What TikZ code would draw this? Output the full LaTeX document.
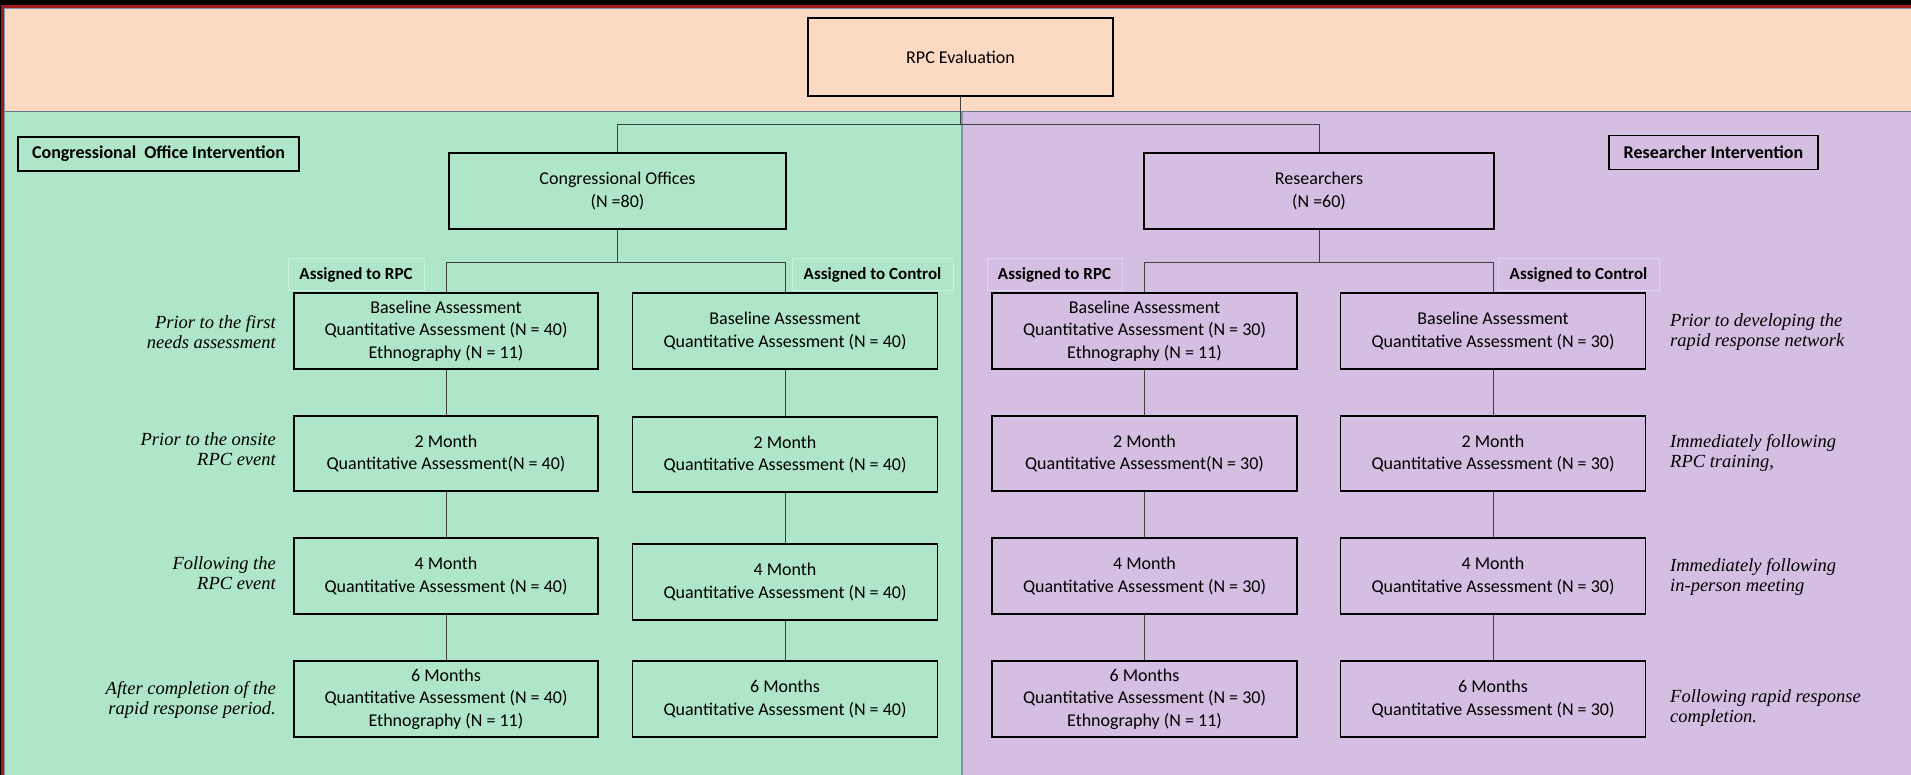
\documentclass[tikz,border=0pt]{standalone}
\usepackage{fontspec}
\setmainfont{Carlito}
\newfontfamily\annotfont{Liberation Serif}
\definecolor{peach}{RGB}{252,217,194}
\definecolor{greenbg}{RGB}{176,230,200}
\definecolor{purplebg}{RGB}{212,191,226}
\definecolor{frred}{RGB}{160,28,28}
\definecolor{frblue}{RGB}{127,149,176}
\definecolor{greenlab}{RGB}{200,240,218}
\definecolor{purplelab}{RGB}{226,212,238}
\tikzset{
  box/.style={draw=black, line width=1.6pt, inner sep=0pt, align=center,
    font=\fontsize{18}{22.5}\selectfont, minimum height=76pt},
  gbox/.style={box, fill=greenbg},
  pbox/.style={box, fill=purplebg},
  conn/.style={draw=black!75, line width=0.8pt},
  intlabel/.style={draw=black, line width=1.5pt, inner sep=0pt, align=center,
    font=\fontsize{18}{22}\selectfont\bfseries, minimum height=34pt},
  asg/.style={line width=1pt, inner sep=0pt, align=center,
    font=\fontsize{17}{20}\selectfont\bfseries, minimum height=32pt},
  annotL/.style={anchor=east, align=right, inner sep=0pt,
    font=\annotfont\itshape\fontsize{18.5}{20}\selectfont},
  annotR/.style={anchor=west, align=left, inner sep=0pt,
    font=\annotfont\itshape\fontsize{18.5}{20}\selectfont},
}
\begin{document}
\begin{tikzpicture}[x=1pt,y=-1pt]
\useasboundingbox (0,0) rectangle (1911,775);
% backgrounds
\fill[greenbg] (0,0) rectangle (962,775);
\fill[purplebg] (962,0) rectangle (1911,775);
\fill[peach] (0,0) rectangle (1911,112);
% frame
\fill[black] (0,0) rectangle (1911,5);
\fill[frred] (0,5) rectangle (1911,8);
\fill[black] (0,0) rectangle (1,775);
\fill[frred] (1,5) rectangle (4,775);
\draw[frblue, line width=1pt] (4.5,775) -- (4.5,8.5) -- (1911,8.5);
\draw[frblue!80!black, line width=1pt] (4.5,112) -- (1911,112);
\draw[frblue, line width=1.2pt] (962,112) -- (962,775);

% top
\node[box, fill=peach, minimum width=305pt, minimum height=78pt] (rpc) at (960.5,57) {RPC Evaluation};
\node[gbox, minimum width=337pt] (co) at (617.5,191) {Congressional Offices\\(N =80)};
\node[pbox, minimum width=350pt] (res) at (1319,191) {Researchers\\(N =60)};
\node[intlabel, fill=greenbg, minimum width=281pt] (coint) at (158.5,154) {Congressional\ \ Office Intervention};
\node[intlabel, fill=purplebg, minimum width=209pt] (resint) at (1713.5,152.5) {Researcher Intervention};

% assigned labels
\node[asg, draw=greenlab, fill=greenbg, minimum width=136pt] (ga) at (356,275) {Assigned to RPC};
\node[asg, draw=greenlab, fill=greenbg, minimum width=161pt] (gc) at (872.5,275) {Assigned to Control};
\node[asg, draw=purplelab, fill=purplebg, minimum width=135pt] (pa) at (1054.5,275) {Assigned to RPC};
\node[asg, draw=purplelab, fill=purplebg, minimum width=161pt] (pc) at (1578.5,275) {Assigned to Control};

% green column RPC
\node[gbox, minimum width=304pt] (g1a) at (446,331) {Baseline Assessment\\Quantitative Assessment (N = 40)\\Ethnography (N = 11)};
\node[gbox, minimum width=304pt, minimum height=75pt] (g2a) at (446,453.5) {2 Month\\Quantitative Assessment(N = 40)};
\node[gbox, minimum width=304pt] (g3a) at (446,576) {4 Month\\Quantitative Assessment (N = 40)};
\node[gbox, minimum width=304pt] (g4a) at (446,699) {6 Months\\Quantitative Assessment (N = 40)\\Ethnography (N = 11)};
% green column control
\node[gbox, minimum width=305pt] (g1b) at (785,331) {Baseline Assessment\\Quantitative Assessment (N = 40)};
\node[gbox, minimum width=305pt, minimum height=75pt] (g2b) at (785,454.5) {2 Month\\Quantitative Assessment (N = 40)};
\node[gbox, minimum width=305pt] (g3b) at (785,582) {4 Month\\Quantitative Assessment (N = 40)};
\node[gbox, minimum width=305pt] (g4b) at (785,699) {6 Months\\Quantitative Assessment (N = 40)};
% purple column RPC
\node[pbox, minimum width=305pt] (p1a) at (1144.5,331) {Baseline Assessment\\Quantitative Assessment (N = 30)\\Ethnography (N = 11)};
\node[pbox, minimum width=305pt, minimum height=75pt] (p2a) at (1144.5,453.5) {2 Month\\Quantitative Assessment(N = 30)};
\node[pbox, minimum width=305pt] (p3a) at (1144.5,576) {4 Month\\Quantitative Assessment (N = 30)};
\node[pbox, minimum width=305pt] (p4a) at (1144.5,699) {6 Months\\Quantitative Assessment (N = 30)\\Ethnography (N = 11)};
% purple column control
\node[pbox, minimum width=305pt] (p1b) at (1493,331) {Baseline Assessment\\Quantitative Assessment (N = 30)};
\node[pbox, minimum width=305pt, minimum height=75pt] (p2b) at (1493,453.5) {2 Month\\Quantitative Assessment (N = 30)};
\node[pbox, minimum width=305pt] (p3b) at (1493,576) {4 Month\\Quantitative Assessment (N = 30)};
\node[pbox, minimum width=305pt] (p4b) at (1493,699) {6 Months\\Quantitative Assessment (N = 30)};

% annotations
\node[annotL] (al1) at (276,332) {Prior to the first\\needs assessment};
\node[annotL] (al2) at (276,449) {Prior to the onsite\\RPC event};
\node[annotL] (al3) at (276,573) {Following the\\RPC event};
\node[annotL] (al4) at (276,700) {After completion of the\\rapid response period.};
\node[annotR] (ar1) at (1670,332) {Prior to developing the\\rapid response network};
\node[annotR] (ar2) at (1670,453) {Immediately following\\RPC training,};
\node[annotR] (ar3) at (1670,577) {Immediately following\\in-person meeting};
\node[annotR] (ar4) at (1670,708) {Following rapid response\\completion.};

% connectors
\coordinate (split) at (rpc.south |- 0,124);
\draw[conn] (rpc.south) -- (split);
\draw[conn] (split) -| (co.north);
\draw[conn] (split) -| (res.north);
\coordinate (cosplit) at (co.south |- 0,262);
\draw[conn] (co.south) -- (cosplit);
\draw[conn] (cosplit) -| (g1a.north);
\draw[conn] (cosplit) -| (g1b.north);
\coordinate (ressplit) at (res.south |- 0,262);
\draw[conn] (res.south) -- (ressplit);
\draw[conn] (ressplit) -| (p1a.north);
\draw[conn] (ressplit) -| (p1b.north);
\draw[conn] (g1a) -- (g2a); \draw[conn] (g2a) -- (g3a); \draw[conn] (g3a) -- (g4a);
\draw[conn] (g1b) -- (g2b); \draw[conn] (g2b) -- (g3b); \draw[conn] (g3b) -- (g4b);
\draw[conn] (p1a) -- (p2a); \draw[conn] (p2a) -- (p3a); \draw[conn] (p3a) -- (p4a);
\draw[conn] (p1b) -- (p2b); \draw[conn] (p2b) -- (p3b); \draw[conn] (p3b) -- (p4b);
\end{tikzpicture}
\end{document}
